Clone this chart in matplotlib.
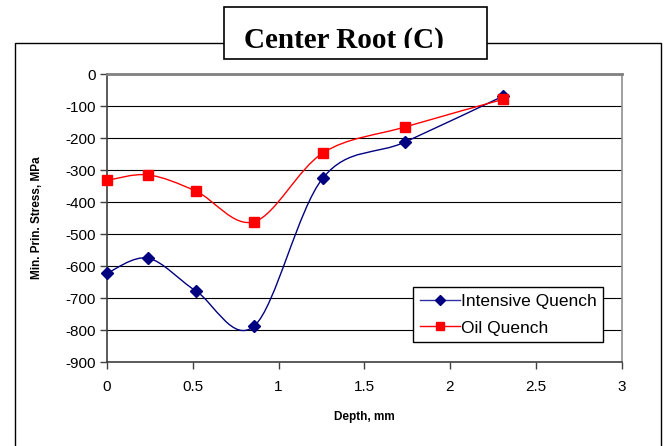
import matplotlib
matplotlib.use("Agg")
import matplotlib.pyplot as plt
from matplotlib.path import Path
from matplotlib.patches import PathPatch, Rectangle
from matplotlib.lines import Line2D
from matplotlib.transforms import Bbox

# Valores
depth_intensive = [0, 0.24, 0.52, 0.86, 1.26, 1.74, 2.31]
stress_intensive = [-622, -575, -678, -786, -324, -212, -69]
depth_oil = [0, 0.24, 0.52, 0.86, 1.26, 1.74, 2.31]
stress_oil = [-332, -315, -366, -461, -246, -165, -79]

BLUE = "#000080"
RED = "#ff0000"

plt.rcParams["font.family"] = ["Liberation Sans", "DejaVu Sans"]
plt.rcParams["axes.unicode_minus"] = False


# Curva suavizada no estilo do Excel (bezier com pontos de controle 1/6)
def smooth_path(x, y):
    pts = list(zip(x, y))
    n = len(pts)
    verts = [pts[0]]
    codes = [Path.MOVETO]
    for i in range(n - 1):
        p0 = pts[i - 1] if i > 0 else pts[i]
        p1 = pts[i]
        p2 = pts[i + 1]
        p3 = pts[i + 2] if i + 2 < n else pts[i + 1]
        c1 = (p1[0] + (p2[0] - p0[0]) / 6, p1[1] + (p2[1] - p0[1]) / 6)
        c2 = (p2[0] - (p3[0] - p1[0]) / 6, p2[1] - (p3[1] - p1[1]) / 6)
        verts += [c1, c2, p2]
        codes += [Path.CURVE4] * 3
    return Path(verts, codes)


fig = plt.figure(figsize=(6.68, 4.46), dpi=100)
ax = fig.add_axes([107 / 668, 1 - 362.3 / 446, (621.5 - 107) / 668, (362.3 - 74) / 446])

# moldura externa e caixa do titulo
fig.patches.append(Rectangle((15 / 668, -0.1), (661 - 15) / 668, 1.1 - 43.3 / 446,
                             transform=fig.transFigure, facecolor="none",
                             edgecolor="black", lw=1.0, zorder=0))
fig.patches.append(Rectangle((224 / 668, 1 - 59.3 / 446), 263.3 / 668, 52 / 446,
                             transform=fig.transFigure, facecolor="white",
                             edgecolor="black", lw=1.2, zorder=1))
title = fig.text(344 / 668, 1 - 48 / 446, "Center Root (C)", ha="center", va="baseline",
                 fontsize=21, fontweight="bold", family="Liberation Serif", zorder=3)
title.set_clip_box(Bbox([[0, 446 - 48.3], [668, 446]]))
title.set_clip_on(True)

ax.add_patch(PathPatch(smooth_path(depth_intensive, stress_intensive), facecolor="none",
                       edgecolor=BLUE, lw=1.0, zorder=3))
ax.add_patch(PathPatch(smooth_path(depth_oil, stress_oil), facecolor="none",
                       edgecolor=RED, lw=1.0, zorder=3))
ax.plot(depth_intensive, stress_intensive, ls="none", marker="D", ms=6, color=BLUE,
        zorder=4, clip_on=False)
ax.plot(depth_oil, stress_oil, ls="none", marker="s", ms=7, color=RED, zorder=4, clip_on=False)

ax.set_xlim(0, 3)
ax.set_ylim(-900, 0)
ax.set_xticks([0, 0.5, 1, 1.5, 2, 2.5, 3])
ax.set_xticklabels(["0", "0.5", "1", "1.5", "2", "2.5", "3"])
ax.set_yticks(range(-900, 1, 100))
ax.tick_params(axis="both", labelsize=11, direction="out", length=5, width=1, color="#404040")
ax.tick_params(axis="x", pad=8)
ax.tick_params(axis="y", pad=3)
ax.grid(axis="y", color="black", lw=0.8)
ax.set_axisbelow(True)

for side in ["left", "bottom"]:
    ax.spines[side].set_color("#404040")
    ax.spines[side].set_linewidth(1.2)
ax.spines["right"].set_color("#909090")
ax.spines["right"].set_linewidth(1.2)
ax.spines["top"].set_color("#808080")
ax.spines["top"].set_linewidth(2)

ax.set_xlabel("Depth, mm", fontsize=8.5, fontweight="bold", labelpad=12)
ax.set_ylabel("Min. Prin. Stress, MPa", fontsize=8.5, fontweight="bold", labelpad=16)

handles = [Line2D([], [], color="#3030a0", lw=1, marker="D", ms=5, markerfacecolor=BLUE,
                  markeredgecolor=BLUE),
           Line2D([], [], color=RED, lw=1, marker="s", ms=6)]
leg = fig.legend(handles, ["Intensive Quench", "Oil Quench"], loc="upper left",
                 bbox_to_anchor=(413 / 668, 1 - 287 / 446), fontsize=12.5,
                 fancybox=False, edgecolor="black", framealpha=1, borderaxespad=0,
                 handlelength=2.3, handletextpad=0.05, borderpad=0.4, labelspacing=0.65)
leg.get_frame().set_linewidth(1.0)

fig.savefig("out.png", dpi=100)
